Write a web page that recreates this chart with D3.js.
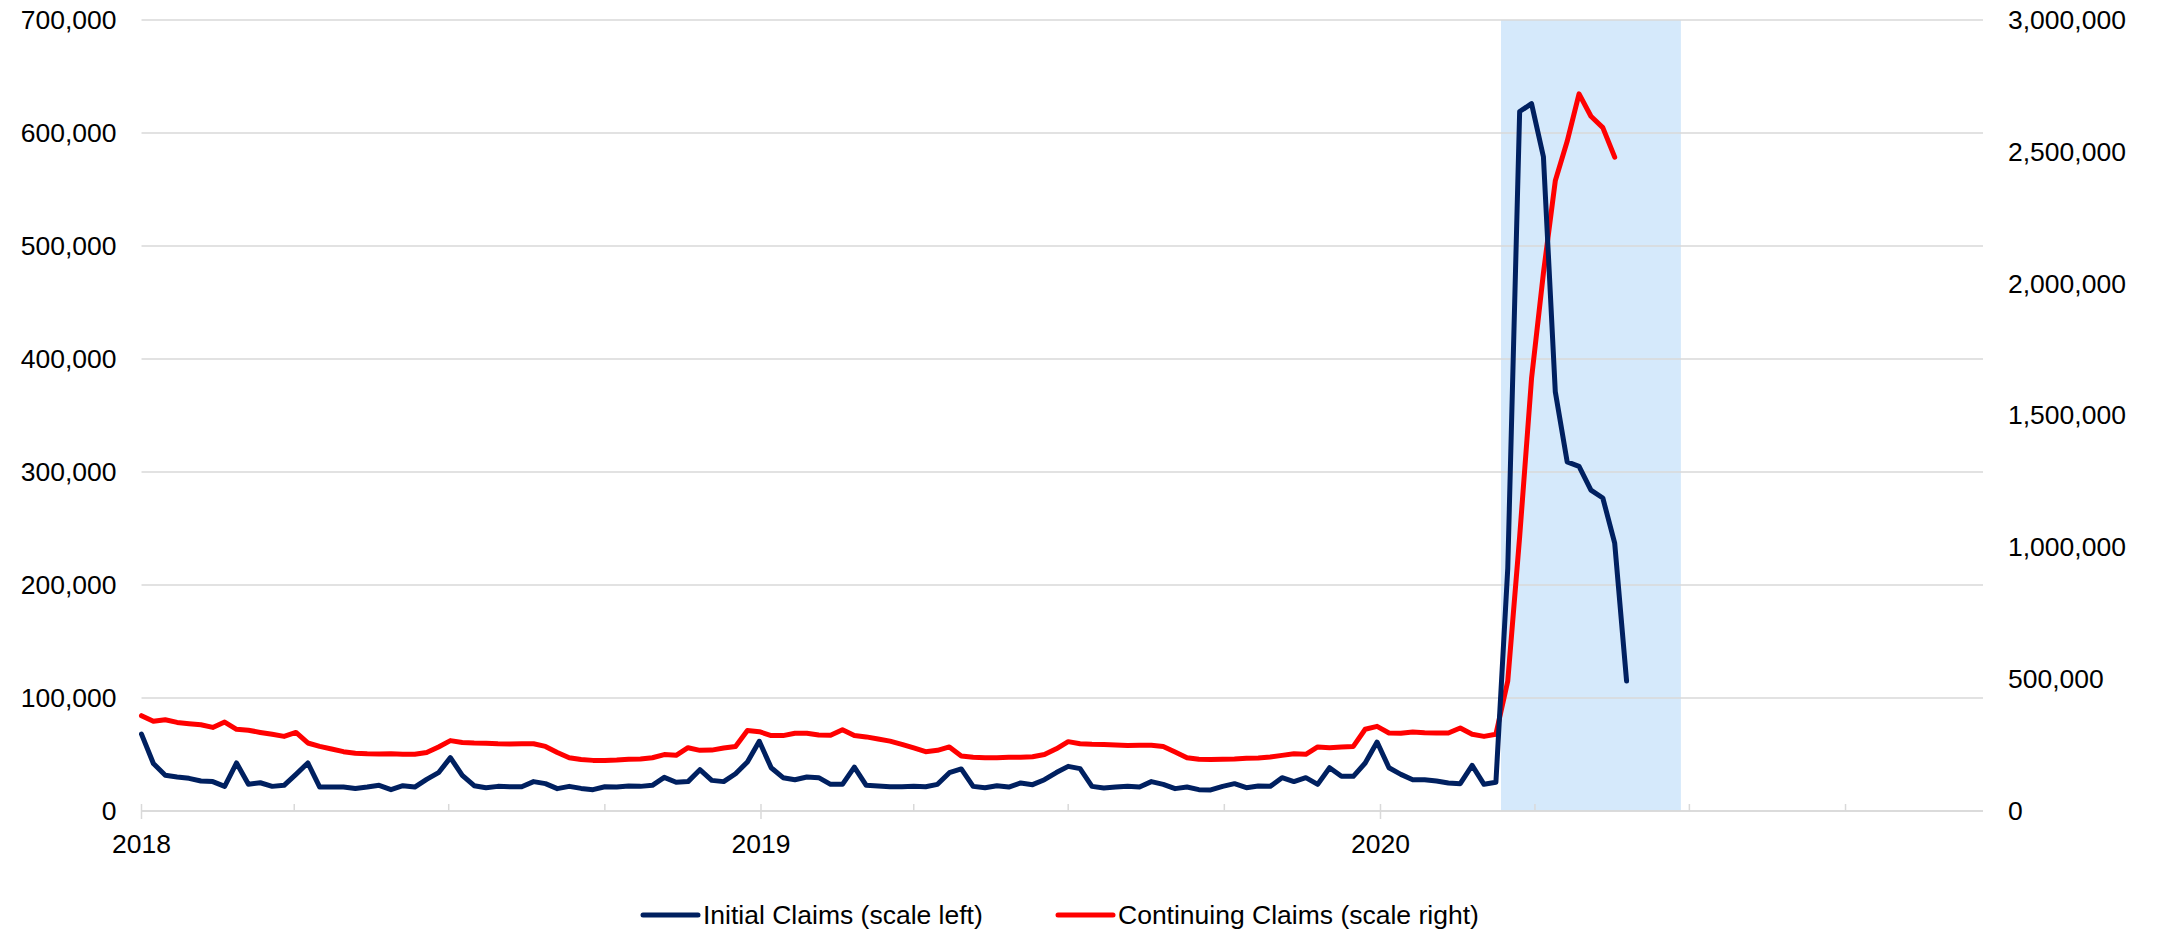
<!DOCTYPE html>
<html>
<head>
<meta charset="utf-8">
<script src="https://cdn.jsdelivr.net/npm/d3@7"></script>
<style>
  html, body { margin: 0; padding: 0; background: #fff; }
  svg { display: block; }
  text { font-family: "Liberation Sans", Arial, sans-serif; fill: #000; }
</style>
</head>
<body>
<svg id="chart" width="2159" height="930"></svg>
<script>
// Weekly unemployment claims, Jan 2018 – May 2020
const firstWeek = "2018-01-06";

const initialClaims = [
  68000, 42000, 31600, 30100, 28900, 26500, 26000, 21800, 42500, 23600,
  25000, 21800, 22700, 32400, 42500, 21200, 21200, 21200, 20000, 21200,
  22700, 18900, 22400, 21200, 28000, 33900, 47200, 31600, 22400, 20600,
  21800, 21500, 21500, 26000, 24200, 19800, 21800, 20000, 18900, 21500,
  21200, 22100, 21800, 22700, 29800, 25400, 26000, 36600, 27100, 26000,
  33000, 43400, 61700, 38300, 29500, 27700, 30100, 29500, 23600, 23600,
  38900, 22700, 22100, 21500, 21500, 21800, 21500, 23600, 33900, 37200,
  21800, 20600, 22400, 21200, 24800, 23300, 27700, 34000, 39500, 37500,
  21800, 20400, 21200, 21800, 21200, 26000, 23600, 19800, 21200, 18900,
  18600, 21800, 24200, 20600, 22100, 21800, 29500, 26000, 29500, 23600,
  38300, 30700, 30700, 42500, 61000, 38300, 32400, 27700, 27700, 26500,
  24800, 24200, 40400, 23600, 25400, 215000, 619000, 626000, 579000, 371000,
  309000, 305000, 284000, 277000, 237000, 115000
];

const continuingClaims = [
  361600, 340000, 346000, 336000, 331000, 327000, 317000, 337500, 310000, 306000,
  298000, 291000, 283000, 298000, 258000, 245000, 235000, 225000, 219000, 217000,
  216000, 217000, 215000, 215000, 222000, 243000, 267000, 260000, 258000, 257000,
  255000, 254000, 255000, 255000, 245000, 222000, 202000, 195000, 192000, 192000,
  193000, 196000, 197000, 202000, 214000, 211000, 240000, 230000, 231000, 239000,
  245000, 305000, 301000, 286000, 286000, 295000, 295000, 288000, 287000, 308000,
  286000, 281000, 273000, 265000, 253000, 239000, 225000, 230000, 243000, 209000,
  204000, 202000, 202000, 204000, 204000, 206000, 214000, 236000, 263000, 255000,
  253000, 252000, 250000, 248000, 249000, 249000, 245000, 224000, 202000, 196000,
  195000, 196000, 197000, 200000, 201000, 205000, 211000, 217000, 215000, 243000,
  240000, 243000, 245000, 310000, 321000, 296000, 295000, 300000, 297000, 296000,
  296000, 315000, 291000, 283000, 291000, 493000, 1040000, 1640000, 2040000, 2390000,
  2540000, 2720000, 2635000, 2592000, 2480000
];

const leftTicks = [0, 100000, 200000, 300000, 400000, 500000, 600000, 700000];
const rightTicks = [0, 500000, 1000000, 1500000, 2000000, 2500000, 3000000];
const axisStart = "2018-01-06";
const axisEnd = "2020-12-26";
const shadeRange = ["2020-03-17", "2020-07-01"];
const seriesNames = ["Initial Claims (scale left)", "Continuing Claims (scale right)"];
const seriesColors = ["#002060", "#FF0000"];

const parse = d3.timeParse("%Y-%m-%d");
const start = parse(firstWeek);
const weekOf = i => d3.timeDay.offset(start, 7 * i);

const svg = d3.select("#chart");
const plot = { left: 141.5, right: 1983, top: 20, bottom: 811 };
const gridColor = "#d9d9d9";
const fontSize = "26.5px";

const x = d3.scaleTime()
  .domain([parse(axisStart), parse(axisEnd)])
  .range([plot.left, plot.right]);
const yL = d3.scaleLinear().domain([0, 700000]).range([plot.bottom, plot.top]);
const yR = d3.scaleLinear().domain([0, 3000000]).range([plot.bottom, plot.top]);

// shaded period
svg.append("rect")
  .attr("x", x(parse(shadeRange[0])))
  .attr("y", plot.top)
  .attr("width", x(parse(shadeRange[1])) - x(parse(shadeRange[0])))
  .attr("height", plot.bottom - plot.top)
  .attr("fill", "#d5e9fb");

// horizontal gridlines (left scale)
svg.append("g").selectAll("line").data(leftTicks).join("line")
  .attr("x1", plot.left).attr("x2", plot.right)
  .attr("y1", d => yL(d)).attr("y2", d => yL(d))
  .attr("stroke", gridColor).attr("stroke-width", 1.5);

const fmt = d3.format(",");

// left axis labels
const leftAxis = d3.axisLeft(yL).tickValues(leftTicks).tickFormat(fmt).tickSize(0).tickPadding(25);
const gl = svg.append("g").attr("transform", `translate(${plot.left},0)`).call(leftAxis);
gl.select(".domain").remove();
gl.selectAll("text").style("font-size", fontSize).attr("fill", "#000")
  .style("font-family", "'Liberation Sans', Arial, sans-serif");

// right axis labels
const rightAxis = d3.axisRight(yR).tickValues(rightTicks).tickFormat(fmt).tickSize(0).tickPadding(25);
const gr = svg.append("g").attr("transform", `translate(${plot.right},0)`).call(rightAxis);
gr.select(".domain").remove();
gr.selectAll("text").style("font-size", fontSize).attr("fill", "#000")
  .style("font-family", "'Liberation Sans', Arial, sans-serif");

// x axis: quarterly ticks, year labels on January ticks
const qTicks = d3.range(12).map(k => d3.timeMonth.offset(parse(axisStart), 3 * k));
const gx = svg.append("g");
gx.append("line")
  .attr("x1", plot.left).attr("x2", plot.right)
  .attr("y1", plot.bottom).attr("y2", plot.bottom)
  .attr("stroke", gridColor).attr("stroke-width", 1.5);
gx.selectAll("line.tick").data(qTicks).join("line")
  .attr("class", "tick")
  .attr("x1", d => x(d)).attr("x2", d => x(d))
  .attr("y1", (d, i) => plot.bottom - 7)
  .attr("y2", (d, i) => i % 4 === 0 ? plot.bottom + 8 : plot.bottom)
  .attr("stroke", gridColor).attr("stroke-width", 1.5);
gx.selectAll("text").data(qTicks.filter((d, i) => i % 4 === 0)).join("text")
  .attr("x", d => x(d)).attr("y", 853)
  .attr("text-anchor", "middle")
  .style("font-size", fontSize)
  .text(d => d3.timeFormat("%Y")(d));

// series lines
const lineL = d3.line().x((d, i) => x(weekOf(i))).y(d => yL(d));
const lineR = d3.line().x((d, i) => x(weekOf(i))).y(d => yR(d));

svg.append("path").datum(continuingClaims)
  .attr("d", lineR).attr("fill", "none")
  .attr("stroke", seriesColors[1]).attr("stroke-width", 5)
  .attr("stroke-linejoin", "round").attr("stroke-linecap", "round");

svg.append("path").datum(initialClaims)
  .attr("d", lineL).attr("fill", "none")
  .attr("stroke", seriesColors[0]).attr("stroke-width", 5)
  .attr("stroke-linejoin", "round").attr("stroke-linecap", "round");

// legend
const legend = [
  { name: seriesNames[0], color: seriesColors[0], x0: 643 },
  { name: seriesNames[1], color: seriesColors[1], x0: 1058 }
];
const lg = svg.append("g");
legend.forEach(l => {
  lg.append("line")
    .attr("x1", l.x0).attr("x2", l.x0 + 55)
    .attr("y1", 915).attr("y2", 915)
    .attr("stroke", l.color).attr("stroke-width", 5).attr("stroke-linecap", "round");
  lg.append("text")
    .attr("x", l.x0 + 60).attr("y", 924)
    .style("font-size", fontSize)
    .text(l.name);
});
</script>
</body>
</html>
